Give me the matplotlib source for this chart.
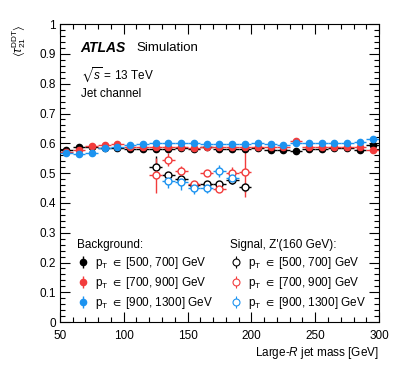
import numpy as np
import matplotlib
matplotlib.use("Agg")
import matplotlib.pyplot as plt
from matplotlib.ticker import MultipleLocator, FormatStrFormatter

plt.rcParams['font.family'] = ['Liberation Sans', 'DejaVu Sans']
plt.rcParams['mathtext.fontset'] = 'custom'
plt.rcParams['mathtext.rm'] = 'Liberation Sans'
plt.rcParams['mathtext.it'] = 'Liberation Sans:italic'
plt.rcParams['mathtext.bf'] = 'Liberation Sans:bold'
plt.rcParams['mathtext.fallback'] = 'stixsans'

# background: mean tau21 DDT per 10 GeV mass bin
mass_bg = np.arange(55, 300, 10)
bg_500_700 = [0.579, 0.586, 0.588, 0.585, 0.584, 0.580, 0.580, 0.581, 0.582, 0.583,
              0.582, 0.586, 0.582, 0.580, 0.582, 0.583, 0.577, 0.577, 0.573, 0.580,
              0.580, 0.584, 0.584, 0.579, 0.595]
bg_700_900 = [0.571, 0.578, 0.590, 0.594, 0.597, 0.589, 0.588, 0.587, 0.587, 0.586,
              0.584, 0.589, 0.589, 0.589, 0.588, 0.588, 0.586, 0.587, 0.608, 0.587,
              0.587, 0.589, 0.589, 0.589, 0.577]
bg_900_1300 = [0.569, 0.564, 0.568, 0.584, 0.589, 0.594, 0.597, 0.600, 0.600, 0.600,
               0.600, 0.599, 0.599, 0.599, 0.599, 0.600, 0.597, 0.596, 0.600, 0.601,
               0.601, 0.601, 0.601, 0.605, 0.614]

# signal Z'(160 GeV)
mass_sig = [125, 135, 145, 155, 165, 175, 185, 195]
sig_500_700 = [0.519, 0.494, 0.481, 0.461, 0.463, 0.463, 0.476, 0.452]
sig_500_700_err = [0.037, 0.010, 0.009, 0.008, 0.007, 0.008, 0.012, 0.015]
sig_700_900 = [0.492, 0.545, 0.507, 0.464, 0.500, 0.446, 0.500, 0.504]
sig_700_900_err = [0.06, 0.022, 0.018, 0.010, 0.010, 0.010, 0.022, 0.085]
mass_sig_hi = [135, 145, 155, 165, 175, 185]
sig_900_1300 = [0.475, 0.470, 0.449, 0.449, 0.508, 0.482]
sig_900_1300_err = [0.025, 0.025, 0.018, 0.015, 0.020, 0.020]

labels = [r'p$_{\mathrm{T}}$ $\in$ [500, 700] GeV',
          r'p$_{\mathrm{T}}$ $\in$ [700, 900] GeV',
          r'p$_{\mathrm{T}}$ $\in$ [900, 1300] GeV']
colors = ['black', '#f23c3c', '#1c93f0']

fig = plt.figure(figsize=(3.99, 3.83), dpi=100)
ax = fig.add_axes([0.150, 0.159, 0.800, 0.778])

bg_handles = []
for vals, c in zip([bg_500_700, bg_700_900, bg_900_1300], colors):
    ax.errorbar(mass_bg, vals, xerr=5, yerr=0.003, fmt='o', color=c, ms=4.5,
                elinewidth=1.0, capsize=0, zorder=3)
    h = ax.errorbar([], [], yerr=[], fmt='o', color=c, ms=4.5, elinewidth=1.0, capsize=0)
    bg_handles.append(h)

sig_handles = []
for x, vals, err, c in zip([mass_sig, mass_sig, mass_sig_hi],
                           [sig_500_700, sig_700_900, sig_900_1300],
                           [sig_500_700_err, sig_700_900_err, sig_900_1300_err], colors):
    ax.errorbar(x, vals, xerr=5, yerr=err, fmt='o', color=c, mfc='white', ms=5,
                mew=1.0, elinewidth=1.0, capsize=0, zorder=2)
    h = ax.errorbar([], [], yerr=[], fmt='o', color=c, mfc='white', ms=5, mew=0.8,
                    elinewidth=0.8, capsize=0)
    sig_handles.append(h)

ax.set_xlim(50, 300)
ax.set_ylim(0, 1)
ax.xaxis.set_major_locator(MultipleLocator(50))
ax.xaxis.set_minor_locator(MultipleLocator(10))
ax.yaxis.set_major_locator(MultipleLocator(0.1))
ax.yaxis.set_minor_locator(MultipleLocator(0.02))
ax.xaxis.set_major_formatter(FormatStrFormatter('%g'))
ax.yaxis.set_major_formatter(FormatStrFormatter('%g'))
ax.tick_params(which='both', direction='in', top=True, right=True, labelsize=8.5)
ax.tick_params(axis='x', pad=6)
ax.tick_params(axis='y', pad=3)
ax.tick_params(which='major', length=7, width=0.8)
ax.tick_params(which='minor', length=3.5, width=0.8)

ax.set_xlabel(r'Large-$\mathit{R}$ jet mass [GeV]', fontsize=8.5, loc='right', labelpad=2)
ax.set_ylabel(r'$\langle\tau_{21}^{\mathrm{DDT}}\rangle$', fontsize=8.5, loc='top', labelpad=8)

ax.text(0.065, 0.92, 'ATLAS', transform=ax.transAxes, fontsize=10, fontweight='bold',
        style='italic', va='center')
ax.text(0.24, 0.92, 'Simulation', transform=ax.transAxes, fontsize=9.5, va='center')
ax.text(0.065, 0.83, r'$\sqrt{s}$ = 13 TeV', transform=ax.transAxes, fontsize=8.5, va='center')
ax.text(0.065, 0.765, 'Jet channel', transform=ax.transAxes, fontsize=8.5, va='center')

leg1 = ax.legend(bg_handles, labels, title='Background:', loc='lower left',
                 bbox_to_anchor=(0.02, 0.0), frameon=False, fontsize=8.5,
                 title_fontsize=8.5, alignment='left', handlelength=1.0,
                 handletextpad=0.5, labelspacing=0.35)
ax.add_artist(leg1)
ax.legend(sig_handles, labels, title="Signal, Z'(160 GeV):", loc='lower left',
          bbox_to_anchor=(0.50, 0.0), frameon=False, fontsize=8.5,
          title_fontsize=8.5, alignment='left', handlelength=1.0,
          handletextpad=0.5, labelspacing=0.35)

fig.savefig('out.png', dpi=100)
